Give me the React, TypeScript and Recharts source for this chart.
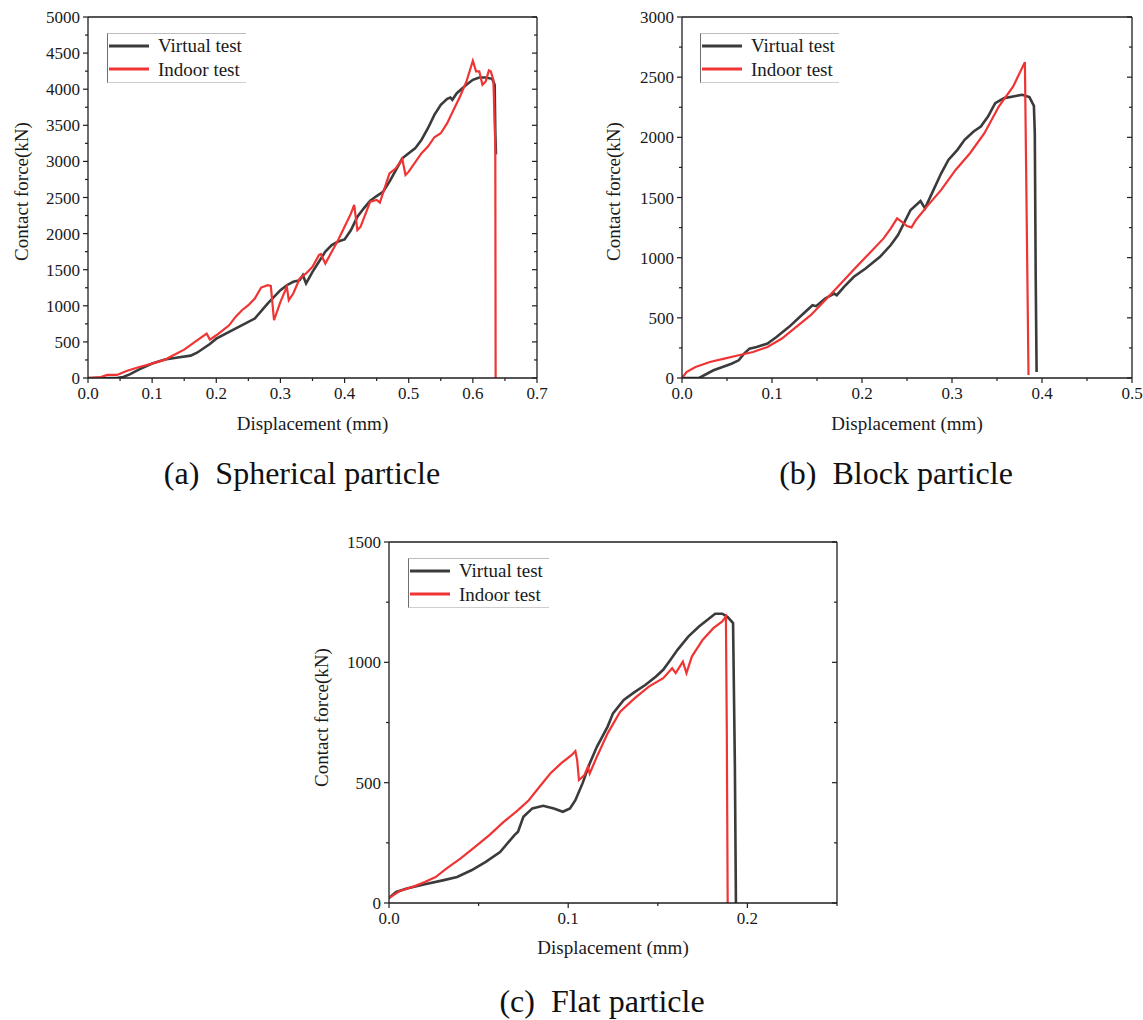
import React from 'react';
import { LineChart, Line, XAxis, YAxis, Legend } from 'recharts';

const SERIF = '"Times New Roman", "Liberation Serif", serif';
const AXIS = '#1e1e1e';
const TEXT = '#1a1a1a';
const BLACK = '#3b3b3b';
const RED = '#f03434';

// ---------- (a) Spherical particle ----------
const sphVirtualX = [0, 0.02, 0.045, 0.055, 0.065, 0.08, 0.1, 0.12, 0.14, 0.16, 0.17, 0.19, 0.2, 0.22, 0.25, 0.26, 0.28, 0.29, 0.3, 0.31, 0.32, 0.33, 0.335, 0.34, 0.35, 0.36, 0.37, 0.38, 0.39, 0.4, 0.41, 0.42, 0.43, 0.44, 0.45, 0.46, 0.47, 0.48, 0.49, 0.5, 0.51, 0.52, 0.53, 0.54, 0.55, 0.56, 0.565, 0.568, 0.575, 0.59, 0.6, 0.61, 0.62, 0.63, 0.633, 0.634, 0.635, 0.636];
const sphVirtualF = [0, 0, 0, 15, 50, 120, 200, 255, 285, 310, 350, 470, 545, 640, 777, 823, 1031, 1124, 1216, 1285, 1332, 1355, 1424, 1310, 1470, 1610, 1750, 1840, 1890, 1920, 2050, 2234, 2350, 2456, 2520, 2580, 2720, 2880, 3043, 3113, 3180, 3300, 3460, 3645, 3783, 3867, 3885, 3853, 3945, 4061, 4130, 4163, 4163, 4144, 4084, 4061, 3400, 3100];
const sphIndoorX = [0, 0.02, 0.03, 0.045, 0.05, 0.06, 0.08, 0.1, 0.12, 0.13, 0.15, 0.17, 0.185, 0.19, 0.2, 0.21, 0.22, 0.23, 0.24, 0.25, 0.26, 0.27, 0.28, 0.285, 0.29, 0.3, 0.31, 0.313, 0.32, 0.33, 0.34, 0.35, 0.36, 0.363, 0.37, 0.38, 0.39, 0.4, 0.41, 0.415, 0.42, 0.425, 0.44, 0.45, 0.455, 0.47, 0.48, 0.49, 0.495, 0.5, 0.52, 0.53, 0.54, 0.55, 0.56, 0.57, 0.58, 0.59, 0.6, 0.605, 0.61, 0.615, 0.62, 0.625, 0.628, 0.632, 0.635, 0.6355];
const sphIndoorF = [0, 14, 42, 42, 60, 97, 153, 199, 254, 300, 393, 522, 615, 532, 592, 661, 730, 846, 939, 1008, 1100, 1253, 1286, 1277, 800, 1055, 1263, 1078, 1170, 1378, 1448, 1540, 1702, 1716, 1586, 1748, 1910, 2095, 2280, 2396, 2049, 2095, 2442, 2465, 2428, 2835, 2905, 3030, 2812, 2858, 3113, 3205, 3335, 3390, 3529, 3714, 3899, 4107, 4394, 4246, 4246, 4061, 4107, 4260, 4246, 4130, 3205, 0];
const sphXTicks = [0, 0.05, 0.1, 0.15, 0.2, 0.25, 0.3, 0.35, 0.4, 0.45, 0.5, 0.55, 0.6, 0.65, 0.7];
const sphXMajor = [0, 0.1, 0.2, 0.3, 0.4, 0.5, 0.6, 0.7];
const sphYTicks = [0, 250, 500, 750, 1000, 1250, 1500, 1750, 2000, 2250, 2500, 2750, 3000, 3250, 3500, 3750, 4000, 4250, 4500, 4750, 5000];
const sphYMajor = [0, 500, 1000, 1500, 2000, 2500, 3000, 3500, 4000, 4500, 5000];

// ---------- (b) Block particle ----------
const blkVirtualX = [0, 0.019, 0.035, 0.055, 0.063, 0.069, 0.075, 0.083, 0.095, 0.105, 0.119, 0.135, 0.145, 0.149, 0.159, 0.169, 0.172, 0.18, 0.191, 0.204, 0.22, 0.232, 0.24, 0.254, 0.265, 0.27, 0.276, 0.288, 0.296, 0.306, 0.314, 0.324, 0.332, 0.34, 0.348, 0.358, 0.368, 0.378, 0.386, 0.391, 0.392, 0.393, 0.394];
const blkVirtualF = [0, 0, 64, 119, 147, 203, 244, 258, 286, 341, 425, 536, 605, 597, 660, 702, 688, 758, 841, 910, 1007, 1105, 1188, 1396, 1471, 1410, 1507, 1701, 1812, 1896, 1979, 2048, 2090, 2173, 2284, 2326, 2340, 2354, 2334, 2262, 2034, 841, 50];
const blkIndoorX = [0, 0.005, 0.015, 0.031, 0.047, 0.063, 0.079, 0.095, 0.111, 0.127, 0.143, 0.159, 0.175, 0.192, 0.208, 0.224, 0.232, 0.239, 0.244, 0.25, 0.255, 0.26, 0.272, 0.288, 0.304, 0.32, 0.336, 0.352, 0.368, 0.376, 0.381, 0.385];
const blkIndoorF = [0, 50, 92, 133, 161, 189, 216, 258, 328, 425, 522, 647, 772, 910, 1035, 1160, 1243, 1327, 1299, 1263, 1252, 1313, 1424, 1563, 1729, 1868, 2034, 2256, 2423, 2548, 2625, 25];
const blkXTicks = [0, 0.05, 0.1, 0.15, 0.2, 0.25, 0.3, 0.35, 0.4, 0.45, 0.5];
const blkXMajor = [0, 0.1, 0.2, 0.3, 0.4, 0.5];
const blkYTicks = [0, 250, 500, 750, 1000, 1250, 1500, 1750, 2000, 2250, 2500, 2750, 3000];
const blkYMajor = [0, 500, 1000, 1500, 2000, 2500, 3000];

// ---------- (c) Flat particle ----------
const flatVirtualX = [0, 0.004, 0.01, 0.02, 0.03, 0.038, 0.046, 0.054, 0.062, 0.07, 0.072, 0.075, 0.08, 0.086, 0.092, 0.097, 0.101, 0.104, 0.108, 0.112, 0.116, 0.122, 0.125, 0.131, 0.137, 0.143, 0.149, 0.153, 0.157, 0.161, 0.167, 0.173, 0.179, 0.182, 0.186, 0.189, 0.192, 0.193, 0.1936];
const flatVirtualF = [21, 46, 60, 78, 94, 108, 136, 171, 212, 282, 296, 358, 393, 404, 393, 379, 393, 427, 497, 580, 649, 733, 788, 844, 876, 906, 941, 969, 1010, 1052, 1107, 1149, 1184, 1202, 1202, 1188, 1163, 580, 0];
const flatIndoorX = [0, 0.006, 0.014, 0.02, 0.026, 0.032, 0.04, 0.048, 0.056, 0.064, 0.072, 0.078, 0.084, 0.09, 0.096, 0.102, 0.104, 0.105, 0.106, 0.109, 0.111, 0.112, 0.116, 0.122, 0.129, 0.137, 0.145, 0.153, 0.158, 0.16, 0.164, 0.166, 0.169, 0.175, 0.181, 0.186, 0.188, 0.1885, 0.189];
const flatIndoorF = [21, 50, 69, 87, 108, 143, 185, 233, 282, 337, 386, 427, 483, 538, 580, 615, 631, 594, 511, 531, 566, 538, 608, 705, 795, 850, 899, 934, 975, 955, 1003, 955, 1024, 1093, 1142, 1170, 1190, 719, 0];
const flatXTicks = [0, 0.05, 0.1, 0.15, 0.2, 0.25];
const flatXMajor = [0, 0.1, 0.2];
const flatYTicks = [0, 250, 500, 750, 1000, 1250, 1500];
const flatYMajor = [0, 500, 1000, 1500];

const SERIES_NAMES = ['Virtual test', 'Indoor test'];

type Pt = { x: number; y: number };
const zip = (xs: number[], ys: number[]): Pt[] => xs.map((x, i) => ({ x, y: ys[i] }));

const isIn = (arr: number[], v: number) => arr.some((m) => Math.abs(m - v) < 1e-9);
const fmtX = (v: number) => v.toFixed(1);
const fmtY = (v: number) => String(Math.round(v));

const MAJOR_LEN = 5;
const MINOR_LEN = 3;

const makeBottomTick = (majors: number[]) => (p: any) => {
  const v = p.payload.value;
  const major = isIn(majors, v);
  return (
    <g>
      <line x1={p.x} y1={p.y} x2={p.x} y2={p.y + (major ? MAJOR_LEN : MINOR_LEN)} stroke={AXIS} strokeWidth={1.2} />
      {major && (
        <text x={p.x} y={p.y + 21} textAnchor="middle" fontSize={17} fontFamily={SERIF} fill={TEXT}>
          {fmtX(v)}
        </text>
      )}
    </g>
  );
};

const makeTopTick = (majors: number[]) => (p: any) => {
  const v = p.payload.value;
  const major = isIn(majors, v);
  return <line x1={p.x} y1={p.y} x2={p.x} y2={p.y + (major ? MAJOR_LEN : MINOR_LEN)} stroke={AXIS} strokeWidth={1.2} />;
};

const makeLeftTick = (majors: number[]) => (p: any) => {
  const v = p.payload.value;
  const major = isIn(majors, v);
  return (
    <g>
      <line x1={p.x} y1={p.y} x2={p.x - (major ? MAJOR_LEN : MINOR_LEN)} y2={p.y} stroke={AXIS} strokeWidth={1.2} />
      {major && (
        <text x={p.x - 8} y={p.y + 6} textAnchor="end" fontSize={17} fontFamily={SERIF} fill={TEXT}>
          {fmtY(v)}
        </text>
      )}
    </g>
  );
};

const makeRightTick = (majors: number[]) => (p: any) => {
  const v = p.payload.value;
  const major = isIn(majors, v);
  return <line x1={p.x} y1={p.y} x2={p.x - (major ? MAJOR_LEN : MINOR_LEN)} y2={p.y} stroke={AXIS} strokeWidth={1.2} />;
};

const LegendBox = (props: any) => {
  const raw: any[] = props.payload || [];
  const items = [...raw].sort((a, b) => SERIES_NAMES.indexOf(a.value) - SERIES_NAMES.indexOf(b.value));
  return (
    <div
      style={{
        borderTop: '1px solid #bdbdbd',
        borderLeft: '1.5px solid #6f6f6f',
        borderBottom: '1px solid #cfcfcf',
        background: '#fff',
        padding: '0 0 1px 0',
        fontFamily: SERIF,
        fontSize: 19,
        color: TEXT,
        width: props.boxWidth,
      }}
    >
      {items.map((it, i) => (
        <div key={i} style={{ display: 'flex', alignItems: 'center', height: 23.5, whiteSpace: 'nowrap' }}>
          <svg width={44} height={10} style={{ display: 'block' }}>
            <line x1={1} y1={5} x2={41} y2={5} stroke={it.color} strokeWidth={3} />
          </svg>
          <span style={{ marginLeft: 6, lineHeight: '23px' }}>{it.value}</span>
        </div>
      ))}
    </div>
  );
};

type PanelProps = {
  left: number;
  top: number;
  width: number;
  height: number;
  yAxisW: number;
  topH: number;
  rightW: number;
  xAxisH: number;
  xDomain: [number, number];
  yDomain: [number, number];
  xTicks: number[];
  xMajor: number[];
  yTicks: number[];
  yMajor: number[];
  virtual: Pt[];
  indoor: Pt[];
  legendLeft: number;
  legendTop: number;
  legendW: number;
  yLabelX: number;
  yLabelDy: number;
  xLabelDy: number;
};

function Panel(p: PanelProps) {
  return (
    <div style={{ position: 'absolute', left: p.left, top: p.top, width: p.width, height: p.height }}>
      <LineChart width={p.width} height={p.height} margin={{ top: 0, right: 0, bottom: 0, left: 0 }}>
        <XAxis
          xAxisId="main"
          dataKey="x"
          type="number"
          domain={p.xDomain}
          ticks={p.xTicks}
          interval={0}
          allowDataOverflow
          height={p.xAxisH}
          tickSize={0}
          tickMargin={0}
          tickLine={false}
          tick={makeBottomTick(p.xMajor)}
          axisLine={{ stroke: AXIS, strokeWidth: 1.3 }}
          label={{
            content: (lp: any) => {
              const vb = lp.viewBox || {};
              return (
                <text
                  x={vb.x + vb.width / 2}
                  y={vb.y + p.xLabelDy}
                  textAnchor="middle"
                  dominantBaseline="central"
                  fontSize={19}
                  fontFamily={SERIF}
                  fill={TEXT}
                >
                  Displacement (mm)
                </text>
              );
            },
          }}
        />
        <XAxis
          xAxisId="top"
          orientation="top"
          type="number"
          domain={p.xDomain}
          ticks={p.xTicks}
          interval={0}
          allowDataOverflow
          height={p.topH}
          tickSize={0}
          tickMargin={0}
          tickLine={false}
          tick={makeTopTick(p.xMajor)}
          axisLine={{ stroke: AXIS, strokeWidth: 1.3 }}
        />
        <YAxis
          yAxisId="main"
          type="number"
          domain={p.yDomain}
          ticks={p.yTicks}
          interval={0}
          allowDataOverflow
          width={p.yAxisW}
          tickSize={0}
          tickMargin={0}
          tickLine={false}
          tick={makeLeftTick(p.yMajor)}
          axisLine={{ stroke: AXIS, strokeWidth: 1.3 }}
          label={{
            content: (lp: any) => {
              const vb = lp.viewBox || {};
              const cx = vb.x + p.yLabelX;
              const cy = vb.y + vb.height / 2 + p.yLabelDy;
              return (
                <text
                  x={cx}
                  y={cy}
                  transform={`rotate(-90 ${cx} ${cy})`}
                  textAnchor="middle"
                  dominantBaseline="central"
                  fontSize={19}
                  fontFamily={SERIF}
                  fill={TEXT}
                >
                  Contact force(kN)
                </text>
              );
            },
          }}
        />
        <YAxis
          yAxisId="right"
          orientation="right"
          type="number"
          domain={p.yDomain}
          ticks={p.yTicks}
          interval={0}
          allowDataOverflow
          width={p.rightW}
          tickSize={0}
          tickMargin={0}
          tickLine={false}
          tick={makeRightTick(p.yMajor)}
          axisLine={{ stroke: AXIS, strokeWidth: 1.3 }}
        />
        <Line
          xAxisId="main"
          yAxisId="main"
          data={p.virtual}
          dataKey="y"
          name={SERIES_NAMES[0]}
          type="linear"
          stroke={BLACK}
          strokeWidth={2.6}
          dot={false}
          activeDot={false}
          isAnimationActive={false}
        />
        <Line
          xAxisId="main"
          yAxisId="main"
          data={p.indoor}
          dataKey="y"
          name={SERIES_NAMES[1]}
          type="linear"
          stroke={RED}
          strokeWidth={2.2}
          dot={false}
          activeDot={false}
          isAnimationActive={false}
        />
        <Legend
          layout="horizontal"
          verticalAlign="middle"
          align="center"
          wrapperStyle={{ left: p.legendLeft, top: p.legendTop, width: 'auto', height: 'auto' }}
          content={(lp: any) => <LegendBox {...lp} boxWidth={p.legendW} />}
        />
      </LineChart>
    </div>
  );
}

const Caption = ({ letter, text, cx, top }: { letter: string; text: string; cx: number; top: number }) => (
  <div
    style={{
      position: 'absolute',
      left: cx - 250,
      width: 500,
      top,
      textAlign: 'center',
      fontFamily: SERIF,
      fontSize: 32,
      lineHeight: '32px',
      color: '#111',
      whiteSpace: 'pre',
    }}
  >
    {`${letter}  ${text}`}
  </div>
);

export default function App() {
  return (
    <div style={{ position: 'absolute', left: 0, top: 0, width: 1143, height: 1020, background: '#fff', overflow: 'hidden' }}>
      <Panel
        left={0}
        top={0}
        width={560}
        height={440}
        yAxisW={88}
        topH={17}
        rightW={23}
        xAxisH={62}
        xDomain={[0, 0.7]}
        yDomain={[0, 5000]}
        xTicks={sphXTicks}
        xMajor={sphXMajor}
        yTicks={sphYTicks}
        yMajor={sphYMajor}
        virtual={zip(sphVirtualX, sphVirtualF)}
        indoor={zip(sphIndoorX, sphIndoorF)}
        legendLeft={107}
        legendTop={33}
        legendW={138}
        yLabelX={21}
        yLabelDy={-6}
        xLabelDy={45}
      />
      <Panel
        left={580}
        top={0}
        width={563}
        height={440}
        yAxisW={102}
        topH={17}
        rightW={11}
        xAxisH={62}
        xDomain={[0, 0.5]}
        yDomain={[0, 3000]}
        xTicks={blkXTicks}
        xMajor={blkXMajor}
        yTicks={blkYTicks}
        yMajor={blkYMajor}
        virtual={zip(blkVirtualX, blkVirtualF)}
        indoor={zip(blkIndoorX, blkIndoorF)}
        legendLeft={120}
        legendTop={33}
        legendW={138}
        yLabelX={33}
        yLabelDy={-6}
        xLabelDy={45}
      />
      <Panel
        left={300}
        top={530}
        width={560}
        height={440}
        yAxisW={89}
        topH={12}
        rightW={23}
        xAxisH={67}
        xDomain={[0, 0.25]}
        yDomain={[0, 1500]}
        xTicks={flatXTicks}
        xMajor={flatXMajor}
        yTicks={flatYTicks}
        yMajor={flatYMajor}
        virtual={zip(flatVirtualX, flatVirtualF)}
        indoor={zip(flatIndoorX, flatIndoorF)}
        legendLeft={108}
        legendTop={28}
        legendW={140}
        yLabelX={21}
        yLabelDy={-5}
        xLabelDy={44}
      />
      <Caption letter="(a)" text="Spherical particle" cx={302} top={457} />
      <Caption letter="(b)" text="Block particle" cx={896} top={457} />
      <Caption letter="(c)" text="Flat particle" cx={602} top={985} />
    </div>
  );
}
